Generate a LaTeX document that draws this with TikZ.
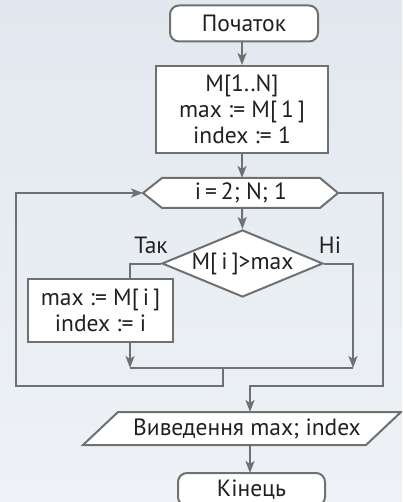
\documentclass[tikz,border=0pt]{standalone}
\usepackage{fontspec}
\setmainfont{PT Sans}
\usetikzlibrary{shapes.geometric,arrows.meta,calc}
\definecolor{linegray}{HTML}{6F7072}
\definecolor{txt}{HTML}{231F20}
\definecolor{bgtop}{HTML}{E2E8EF}
\definecolor{bgbot}{HTML}{EEF2F6}
\begin{document}
\begin{tikzpicture}[x=1pt,y=-1pt,
  font=\fontsize{23.5}{26}\selectfont, text=txt,
  shp/.style={draw=linegray, line width=2pt, fill=white},
  term/.style={shp, rounded corners=9pt, inner sep=0pt},
  proc/.style={shp, inner sep=0pt, align=center},
  cond/.style={shp, diamond, aspect=2.4, inner sep=0pt},
  plain/.style={inner sep=0pt, align=center},
  conn/.style={draw=linegray, line width=2pt},
  arr/.style={conn, -{Stealth[length=12pt,width=9pt,inset=3pt]}},
  lbl/.style={inner sep=0pt}
]
\fill[top color=bgtop, bottom color=bgbot] (0,0) rectangle (402,502);
\useasboundingbox (0,0) rectangle (402,502);
\clip (0,0) rectangle (402,502);

% nodes
\node[term, minimum width=148pt, minimum height=36pt] (start) at (244,23.5) {Початок};
\node[proc, minimum width=172pt, minimum height=87pt] (init) at (242,109.5) {M[1..N]\\max := M[\,1\,]\\index := 1};

\draw[shp] (162,178) -- (320,178) -- (338,193) -- (320,208) -- (162,208) -- (143,193) -- cycle;
\node[plain, minimum width=158pt, minimum height=30pt] (loop) at (241,193) {i\,=\,2; N; 1};
\coordinate (loopW) at (143,193);
\coordinate (loopE) at (338,193);

\node[cond, minimum width=161pt, minimum height=67pt] (test) at (242.5,263.5) {M[\,i\,]>max};
\node[proc, minimum width=145pt, minimum height=63pt] (body) at (100.5,310.5) {max := M[\,i\,]\\index := i};

\draw[shp] (118,412) -- (401,412) -- (366,445) -- (83,445) -- cycle;
\node[plain, minimum width=248pt, minimum height=33pt] (out) at (247,428.5) {Виведення max; index};

\node[term, minimum width=147pt, minimum height=33pt] (end) at (251.5,489.5) {Кінець};

\node[lbl] (yes) at (151,245) {Так};
\node[lbl] (no) at (330,245) {Ні};

% helper coordinates
\coordinate (yesTurn) at (130,263.5);
\coordinate (bodyIn) at (130,279);
\coordinate (bodyOut) at (130,342);
\coordinate (joinL) at (130,368);
\coordinate (noTurn) at (353,263.5);
\coordinate (joinR) at (353,368);
\coordinate (joinM) at (223,368);
\coordinate (backB) at (223,386);
\coordinate (backBL) at (16,386);
\coordinate (backTL) at (16,193);
\coordinate (exitTR) at (383,193);
\coordinate (exitBR) at (383,386);
\coordinate (exitB) at (250,386);
\coordinate (outIn) at (250,412);
\coordinate (outOut) at (250,445);
\coordinate (endIn) at (250,473);

% connectors
\draw[arr] (start.south -| 242,0) -- (init.north -| 242,0);
\draw[arr] (init.south -| 242,0) -- (242,178);
\draw[arr] (242,208) -- (test.north);
\draw[conn] (test.west) -- (yesTurn) -- (bodyIn);
\draw[arr] (bodyOut) -- (joinL);
\draw[arr] (test.east) -- (noTurn) -- (joinR);
\draw[conn] (joinL) -- (joinR);
\draw[arr] (joinM) -- (backB) -- (backBL) -- (backTL) -- (loopW);
\draw[arr] (loopE) -- (exitTR) -- (exitBR) -- (exitB) -- (outIn);
\draw[arr] (outOut) -- (endIn);
\end{tikzpicture}
\end{document}
